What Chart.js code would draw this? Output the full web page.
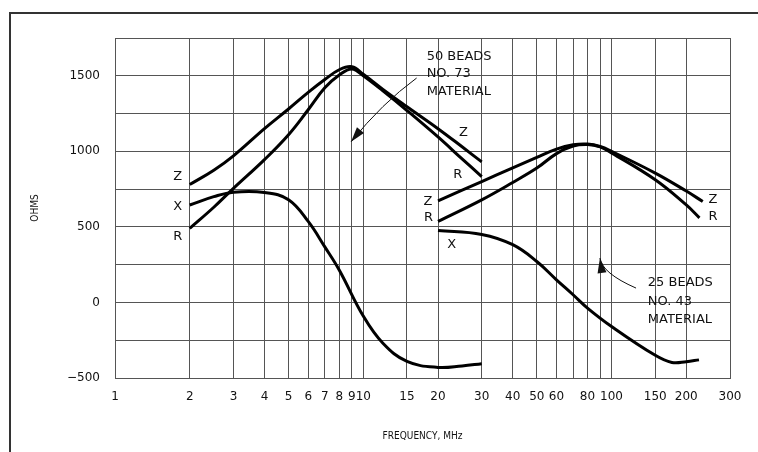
<!DOCTYPE html>
<html>
<head>
<meta charset="utf-8">
<script src="https://cdn.jsdelivr.net/npm/chart.js@4.4.1/dist/chart.umd.min.js"></script>
<style>
  html, body { margin: 0; padding: 0; background: #fff; }
  #wrap { width: 758px; height: 452px; position: relative; }
</style>
</head>
<body>
<div id="wrap"><canvas id="beadChart"></canvas></div>
<script>
// ================= DATA =================
// 50 beads, No. 73 material
const freq73 = [2, 2.5, 3, 4, 5, 6, 7, 8, 9, 10, 12, 15, 20, 25, 30];
const z73 = [780, 875, 970, 1150, 1280, 1390, 1475, 1540, 1560, 1510, 1410, 1295, 1150, 1030, 930];
const r73 = [490, 630, 755, 945, 1110, 1275, 1420, 1505, 1545, 1500, 1400, 1270, 1095, 950, 833];
const freqX73 = [2, 2.5, 3, 4, 5, 6, 7, 8, 10, 12, 15, 20, 25, 30];
const x73 = [645, 700, 730, 728, 680, 536, 368, 215, -90, -270, -390, -430, -420, -405];

// 25 beads, No. 43 material
const freqZ43 = [20, 30, 40, 50, 60, 70, 80, 90, 100, 150, 200, 233];
const z43 = [672, 800, 891, 960, 1015, 1043, 1048, 1032, 1000, 856, 737, 668];
const freqR43 = [20, 30, 40, 50, 60, 70, 80, 90, 100, 150, 200, 226];
const r43 = [536, 679, 794, 889, 985, 1035, 1045, 1030, 990, 812, 645, 560];
const freqX43 = [20, 30, 40, 50, 60, 70, 80, 100, 150, 175, 200, 225];
const x43 = [476, 450, 382, 271, 150, 51, -37, -159, -350, -397, -392, -380];

// tick values
const xTicks = [1, 2, 3, 4, 5, 6, 7, 8, 9, 10, 15, 20, 30, 40, 50, 60, 70, 80, 90, 100, 150, 200, 300];
const xLabelled = [1, 2, 3, 4, 5, 6, 7, 8, 9, 10, 15, 20, 30, 40, 50, 60, 80, 100, 150, 200, 300];
const yLabelled = [-500, 0, 500, 1000, 1500];

// ================= TEXT LABELS (data coords) =================
const notes = [
  { lines: ["50 BEADS", "NO. 73", "MATERIAL"], f: 18.0, v: [1625, 1513, 1394] },
  { lines: ["25 BEADS", "NO. 43", "MATERIAL"], f: 140, v: [128, 7, -114] }
];
const curveTags = [
  { t: "Z", f: 1.79, v: 830 }, { t: "X", f: 1.79, v: 632 }, { t: "R", f: 1.79, v: 434 },
  { t: "Z", f: 25.3, v: 1122 }, { t: "R", f: 24.0, v: 845 },
  { t: "Z", f: 18.2, v: 666 }, { t: "R", f: 18.3, v: 560 },
  { t: "Z", f: 256, v: 679 }, { t: "R", f: 256, v: 567 },
  { t: "X", f: 22.7, v: 382 }
];
const arrows = [
  { from: [16.4, 1485], mid: [12.0, 1296], to: [8.93, 1063] },
  { from: [125.5, 95], mid: [98.6, 194], to: [89.8, 294] }
];

const FONT = "'DejaVu Sans', 'Liberation Sans', sans-serif";
const FONT_NARROW = "'DejaVu Sans Condensed', 'Liberation Sans Narrow', 'DejaVu Sans', sans-serif";

function pts(xs, ys) {
  return xs.map((x, i) => ({ x, y: ys[i] }));
}

function curve(data) {
  return {
    data,
    borderColor: "#000",
    borderWidth: 3,
    pointRadius: 0,
    fill: false,
    tension: 0.4
  };
}

// ================= DECORATION PLUGIN =================
const decor = {
  id: "decor",
  beforeDraw(chart) {
    const ctx = chart.ctx;
    ctx.save();
    ctx.fillStyle = "#fff";
    ctx.fillRect(0, 0, chart.width, chart.height);
    ctx.strokeStyle = "#333";
    ctx.lineWidth = 2;
    ctx.beginPath();
    ctx.moveTo(10, chart.height);
    ctx.lineTo(10, 13);
    ctx.lineTo(chart.width, 13);
    ctx.stroke();
    ctx.restore();
  },
  afterDatasetsDraw(chart) {
    const ctx = chart.ctx;
    const xs = chart.scales.x, ys = chart.scales.y;
    const px = f => xs.getPixelForValue(f);
    const py = v => ys.getPixelForValue(v);
    ctx.save();
    ctx.fillStyle = "#111";

    // annotations
    ctx.font = "13px " + FONT;
    ctx.textAlign = "left";
    ctx.textBaseline = "middle";
    notes.forEach(n => {
      n.lines.forEach((line, i) => ctx.fillText(line, px(n.f), py(n.v[i])));
    });

    // curve tags
    ctx.textAlign = "center";
    curveTags.forEach(c => ctx.fillText(c.t, px(c.f), py(c.v)));

    // arrows
    ctx.strokeStyle = "#111";
    ctx.lineWidth = 1;
    arrows.forEach(a => {
      const sx = px(a.from[0]), sy = py(a.from[1]);
      const mx = px(a.mid[0]), my = py(a.mid[1]);
      const ex = px(a.to[0]), ey = py(a.to[1]);
      const cx = 2 * mx - (sx + ex) / 2, cy = 2 * my - (sy + ey) / 2;
      ctx.beginPath();
      ctx.moveTo(sx, sy);
      ctx.quadraticCurveTo(cx, cy, ex, ey);
      ctx.stroke();
      const ang = Math.atan2(ey - cy, ex - cx);
      const len = 15, half = 4.5;
      ctx.beginPath();
      ctx.moveTo(ex, ey);
      ctx.lineTo(ex - len * Math.cos(ang) + half * Math.sin(ang), ey - len * Math.sin(ang) - half * Math.cos(ang));
      ctx.lineTo(ex - len * Math.cos(ang) - half * Math.sin(ang), ey - len * Math.sin(ang) + half * Math.cos(ang));
      ctx.closePath();
      ctx.fill();
    });
    ctx.restore();
  }
};

// ================= CHART =================
new Chart(document.getElementById("beadChart"), {
  type: "line",
  data: {
    datasets: [
      curve(pts(freq73, z73)),
      curve(pts(freq73, r73)),
      curve(pts(freqX73, x73)),
      curve(pts(freqZ43, z43)),
      curve(pts(freqR43, r43)),
      curve(pts(freqX43, x43))
    ]
  },
  options: {
    responsive: true,
    maintainAspectRatio: false,
    animation: false,
    events: [],
    layout: { padding: { left: 0, top: 38, right: 28, bottom: 0 } },
    plugins: { legend: { display: false }, tooltip: { enabled: false } },
    scales: {
      x: {
        type: "logarithmic",
        min: 1,
        max: 300,
        afterBuildTicks: scale => { scale.ticks = xTicks.map(v => ({ value: v })); },
        afterFit: scale => { scale.height = 74; },
        grid: { color: "#555", lineWidth: 1, drawTicks: false },
        border: { color: "#555" },
        ticks: {
          autoSkip: false,
          maxRotation: 0,
          padding: 12,
          color: "#111",
          font: { family: FONT, size: 12 },
          callback: v => (xLabelled.includes(v) ? String(v) : "")
        },
        title: {
          display: true,
          text: "FREQUENCY, MHz",
          color: "#111",
          font: { family: FONT_NARROW, size: 10 },
          padding: { top: 0, bottom: 10 }
        }
      },
      y: {
        min: -500,
        max: 1750,
        afterFit: scale => { scale.width = 115; },
        grid: { color: "#555", lineWidth: 1, drawTicks: false },
        border: { color: "#555" },
        ticks: {
          stepSize: 250,
          padding: 15,
          color: "#111",
          font: { family: FONT, size: 12 },
          callback: v => (yLabelled.includes(v) ? (v < 0 ? "\u2212" + Math.abs(v) : String(v)) : "")
        },
        title: {
          display: true,
          text: "OHMS",
          color: "#111",
          font: { family: FONT_NARROW, size: 10 },
          padding: { top: 29, bottom: 0 }
        }
      }
    }
  },
  plugins: [decor]
});
</script>
</body>
</html>
